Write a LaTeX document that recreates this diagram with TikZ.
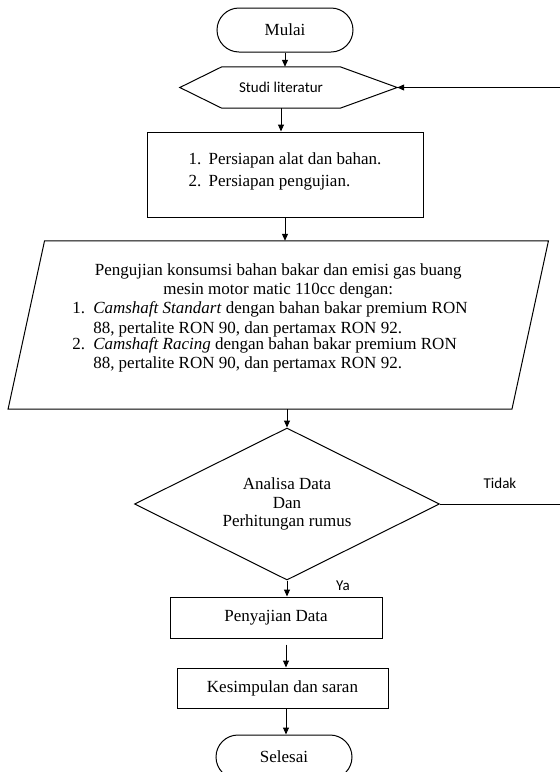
\documentclass[tikz,border=0pt]{standalone}
\usepackage{fontspec}
\setmainfont{Liberation Serif}
\newfontfamily\carl{Carlito}
\usetikzlibrary{arrows.meta,shapes.misc,shapes.geometric,calc}
\begin{document}
\begin{tikzpicture}[x=1pt,y=-1pt,
  line/.style={line width=1pt, black},
  arr/.style={line, -{Triangle[length=7pt,width=6pt]}},
  serif/.style={font=\fontsize{17}{18.7}\selectfont},
  sans/.style={font=\carl\fontsize{15}{18}\selectfont},
  terminal/.style={rounded rectangle, draw, line, serif, minimum width=136pt, minimum height=44pt, inner sep=0pt},
  boxnode/.style={rectangle, draw, line, serif, inner sep=0pt},
]
\useasboundingbox (0,0) rectangle (560,772);
\coordinate (edge) at (562,0);
\coordinate (axis) at (286,0);

% Mulai
\node[terminal] (mulai) at (285,30) {Mulai};

% Studi literatur (hexagon)
\node[sans, minimum width=118pt, minimum height=41pt, inner sep=0pt] (studi) at (281,87.5) {Studi literatur};
\coordinate (studiL) at ([xshift=-42pt]studi.west);
\coordinate (studiR) at ([xshift=57pt]studi.east);
\draw[line] (studiL) -- (studi.north west) -- (studi.north east) -- (studiR) -- (studi.south east) -- (studi.south west) -- cycle;

% Persiapan
\node[boxnode, minimum width=276pt, minimum height=85pt] (prep) at (285,174.5)
  {\begin{tabular}{@{}p{20pt}@{}l@{}}1. & Persiapan alat dan bahan.\\[3.5pt] 2. & Persiapan pengujian.\\[6pt]\end{tabular}};

% Pengujian (parallelogram)
\node[serif, minimum width=503.5pt, minimum height=168pt, inner sep=0pt] (uji) at (278.25,325)
  {\parbox{412pt}{\baselineskip=19.2pt
   {\centering Pengujian konsumsi bahan bakar dan emisi gas buang\\ mesin motor matic 110cc dengan:\par}
   \noindent\makebox[21pt][l]{1.}\parbox[t]{391pt}{\baselineskip=19.2pt\raggedright\textit{Camshaft Standart} dengan bahan bakar premium RON\\88, pertalite RON 90, dan pertamax RON 92.}\par
   \noindent\makebox[21pt][l]{2.}\parbox[t]{391pt}{\baselineskip=19.2pt\raggedright\textit{Camshaft Racing} dengan bahan bakar premium RON\\88, pertalite RON 90, dan pertamax RON 92.}\par
   \vspace{14pt}}};
\draw[line] ([xshift=18.25pt]uji.north west) -- ([xshift=18.25pt]uji.north east) -- ([xshift=-18.25pt]uji.south east) -- ([xshift=-18.25pt]uji.south west) -- cycle;

% Decision
\node[diamond, draw, line, serif, shape aspect=2, minimum width=305pt, minimum height=152pt, inner sep=0pt, align=center] (dia) at (287,504)
  {Analisa Data\\Dan\\Perhitungan rumus};
\node[sans] (tidak) at (500,483) {Tidak};
\node[sans] (ya) at (343,586) {Ya};

% Bottom boxes
\node[boxnode, minimum width=212pt, minimum height=41pt] (saji) at (276,617.5) {Penyajian Data};
\node[boxnode, minimum width=211pt, minimum height=40pt] (simpul) at (282.5,688) {Kesimpulan dan saran};
\node[terminal] (selesai) at (284,757) {Selesai};

% Connectors
\draw[arr] (mulai.south) -- (mulai.south |- studi.north);
\draw[arr] (studi.south) -- (studi.south |- prep.north);
\draw[arr] (prep.south) -- (prep.south |- uji.north);
\draw[arr] (uji.south -| dia.north) -- (dia.north);
\draw[arr] (dia.south) -- (dia.south |- saji.north);
\draw[arr, shorten <=6pt] (saji.south -| axis) -- (simpul.north -| axis);
\draw[arr] (simpul.south -| axis) -- (selesai.north -| axis);
\draw[arr] (dia.east) -- (dia.east -| edge) -- (studiR -| edge) -- (studiR);
\end{tikzpicture}
\end{document}
